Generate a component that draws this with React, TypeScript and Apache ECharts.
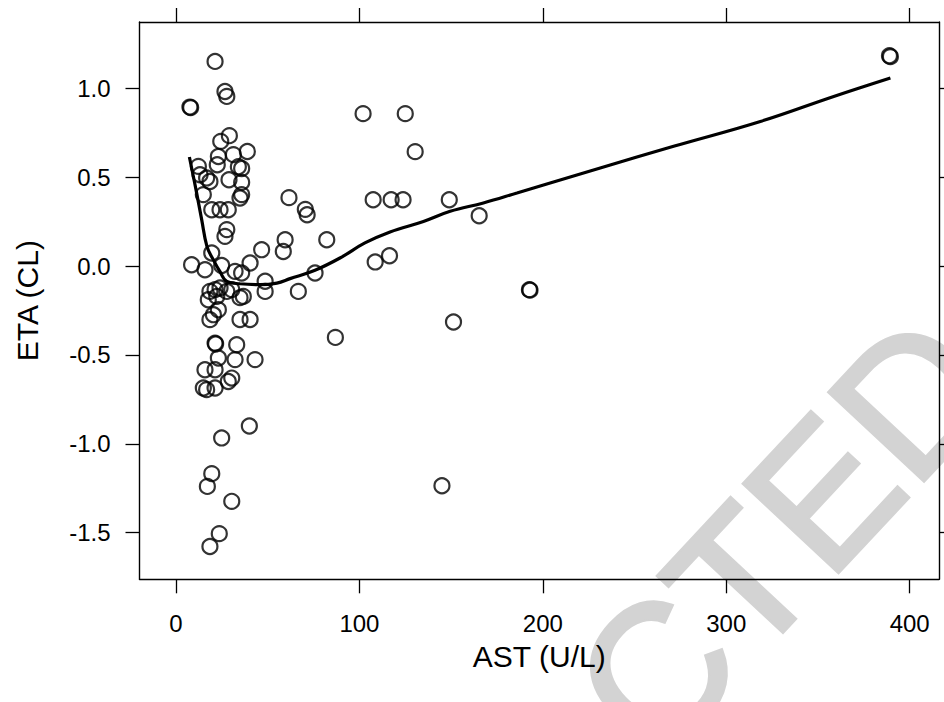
import React, { useEffect, useRef } from "react";
import * as echarts from "echarts";

// Observed AST (U/L) and individual CL random effects (ETA)
const astValues = [
  389, 389.5, 102, 125, 130.4, 61.6, 70.5, 71.5, 107.5, 117.3, 123.8, 149, 165.3,
  82.2, 59.5, 58.5, 46.7, 40.4, 35.8, 48.6, 48.6, 75.8, 66.7, 34.9, 34.9, 40.4,
  108.6, 116.4, 192.7, 193, 151.3, 86.9, 43.1, 145,
  21.3, 26.7, 27.7, 7.6, 8.0, 29.1, 24.4, 38.9, 31.3, 23.1, 22.5, 12.2, 34, 35.8,
  13.1, 16.7, 18.5, 28.9, 35.8, 14.9, 35.8, 34.9, 19.5, 24, 28.5, 27.7, 26.7,
  8.5, 19.5, 15.8, 24.9, 32.2,
  18.5, 21.3, 24, 27.7, 30.4, 36.7, 22.2, 17.6, 23.1, 20.4, 18.5,
  21.3, 21.6, 33.1, 23.1, 32.2, 15.8, 21.3, 30.4, 28.5, 14.9, 16.7, 21.3,
  40, 24.9, 19.5, 17.1, 30.4, 23.6, 18.5,
];
const etaValues = [
  1.185, 1.18, 0.859, 0.859, 0.645, 0.386, 0.32, 0.29, 0.374, 0.374, 0.374, 0.374, 0.284,
  0.149, 0.149, 0.083, 0.093, 0.018, -0.038, -0.085, -0.142, -0.038, -0.142, -0.177, -0.3, -0.3,
  0.024, 0.059, -0.132, -0.135, -0.314, -0.401, -0.526, -1.236,
  1.153, 0.984, 0.956, 0.896, 0.893, 0.735, 0.703, 0.646, 0.628, 0.618, 0.571, 0.562, 0.56, 0.55,
  0.515, 0.497, 0.477, 0.487, 0.472, 0.403, 0.403, 0.384, 0.318, 0.318, 0.318, 0.206, 0.168,
  0.008, 0.074, -0.02, 0.004, -0.029,
  -0.142, -0.132, -0.123, -0.142, -0.132, -0.17, -0.17, -0.189, -0.245, -0.273, -0.301,
  -0.433, -0.438, -0.442, -0.517, -0.526, -0.583, -0.583, -0.63, -0.649, -0.686, -0.695, -0.686,
  -0.9, -0.967, -1.168, -1.24, -1.324, -1.506, -1.578,
];

// Loess smooth of ETA versus AST
const loessAst = [
  7.3, 10.9, 14.0, 16.9, 20.3, 24.0, 27.7, 34.9, 45.8, 55, 62.2, 75.8, 89.4, 103,
  116.7, 134.9, 149.5, 167.6, 185.9, 204, 231.3, 271.3, 318.6, 358.6, 389.5,
];
const loessEta = [
  0.615, 0.431, 0.262, 0.11, 0.037, -0.031, -0.086, -0.099, -0.104, -0.095, -0.07, -0.023,
  0.046, 0.131, 0.193, 0.252, 0.309, 0.356, 0.412, 0.468, 0.553, 0.675, 0.815, 0.956, 1.06,
];

const xTicks = [0, 100, 200, 300, 400];
const yTicks = [-1.5, -1.0, -0.5, 0.0, 0.5, 1.0];

const FONT = "'Liberation Sans', Arial, Helvetica, sans-serif";

export default function App() {
  const ref = useRef<HTMLDivElement>(null);

  useEffect(() => {
    if (!ref.current) return;
    const chart = echarts.init(ref.current, undefined, { renderer: "svg" });

    const lineStyle = { color: "#000", width: 1.4 };
    const tick = (values: number[]) => ({
      show: true,
      inside: false,
      length: 14,
      customValues: values,
      lineStyle: { color: "#000", width: 1.3 },
    });

    const xBase = {
      type: "value" as const,
      min: -19.9,
      max: 416.0,
      splitLine: { show: false },
      axisLine: { show: true, onZero: false, lineStyle },
    };
    const yBase = {
      type: "value" as const,
      min: -1.763,
      max: 1.375,
      splitLine: { show: false },
      axisLine: { show: true, onZero: false, lineStyle },
    };

    chart.setOption({
      animation: false,
      backgroundColor: "#fff",
      textStyle: { fontFamily: FONT },
      graphic: [
        {
          type: "text",
          z: -100,
          x: 606,
          y: 726,
          rotation: (47 * Math.PI) / 180,
          silent: true,
          style: {
            text: "REDACTED",
            fontSize: 188,
            fontFamily: FONT,
            fill: "#d3d3d3",
            stroke: "#d3d3d3",
            lineWidth: 4,
            textAlign: "center",
            textVerticalAlign: "middle",
          },
        },
      ],
      grid: { left: 139.5, top: 22, right: 5, bottom: 122.7, containLabel: false },
      xAxis: [
        {
          ...xBase,
          position: "bottom",
          axisTick: tick(xTicks),
          axisLabel: {
            show: true,
            customValues: xTicks,
            margin: 32,
            fontSize: 24,
            color: "#000",
            fontFamily: FONT,
          },
          name: "AST (U/L)",
          nameLocation: "middle",
          nameGap: 62,
          nameTextStyle: { fontSize: 30, color: "#000", fontFamily: FONT },
        },
        {
          ...xBase,
          position: "top",
          axisTick: tick(xTicks),
          axisLabel: { show: false },
        },
      ],
      yAxis: [
        {
          ...yBase,
          position: "left",
          axisTick: tick(yTicks),
          axisLabel: {
            show: true,
            customValues: yTicks,
            margin: 29,
            fontSize: 24,
            color: "#000",
            fontFamily: FONT,
            formatter: (v: number) => v.toFixed(1),
          },
          name: "ETA (CL)",
          nameLocation: "middle",
          nameGap: 97,
          nameTextStyle: { fontSize: 30, color: "#000", fontFamily: FONT },
        },
        {
          ...yBase,
          position: "right",
          axisTick: tick(yTicks),
          axisLabel: { show: false },
        },
      ],
      series: [
        {
          type: "scatter",
          xAxisIndex: 0,
          yAxisIndex: 0,
          symbol: "circle",
          symbolSize: 15,
          itemStyle: { color: "rgba(0,0,0,0)", borderColor: "#000", borderWidth: 2.2 },
          data: astValues.map((a, i) => [a, etaValues[i]]),
          z: 3,
        },
        {
          type: "line",
          xAxisIndex: 0,
          yAxisIndex: 0,
          showSymbol: false,
          smooth: 0.4,
          lineStyle: { color: "#000", width: 3.2 },
          data: loessAst.map((a, i) => [a, loessEta[i]]),
          z: 4,
        },
      ],
    });

    return () => chart.dispose();
  }, []);

  return (
    <div
      ref={ref}
      style={{ position: "fixed", left: 0, top: 0, width: 944, height: 702, background: "#fff" }}
    />
  );
}
